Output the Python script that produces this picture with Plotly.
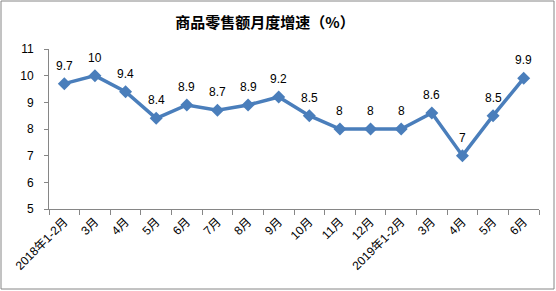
import plotly.graph_objects as go

categories = ["2018年1-2月", "3月", "4月", "5月", "6月", "7月", "8月", "9月",
              "10月", "11月", "12月", "2019年1-2月", "3月", "4月", "5月", "6月"]
values = [9.7, 10, 9.4, 8.4, 8.9, 8.7, 8.9, 9.2, 8.5, 8, 8, 8, 8.6, 7, 8.5, 9.9]
y_ticks = [5, 6, 7, 8, 9, 10, 11]
title = "商品零售额月度增速（%）"

x = list(range(len(categories)))
font = "Liberation Sans, Noto Sans CJK SC, sans-serif"

fig = go.Figure()
fig.add_trace(go.Scatter(
    x=x, y=values, mode="lines+markers",
    line=dict(color="#4A7EBB", width=3.5),
    marker=dict(symbol="diamond", size=10, color="#4A7EBB"),
    cliponaxis=False, hoverinfo="skip",
))

for xi, v in zip(x, values):
    fig.add_annotation(x=xi, y=v, text=f"{v:g}", showarrow=False,
                       yshift=18, yanchor="middle",
                       font=dict(family=font, size=12, color="#000000"))

fig.update_layout(
    width=556, height=291,
    margin=dict(l=49, r=17, t=49, b=82),
    paper_bgcolor="white", plot_bgcolor="white",
    showlegend=False,
    title=dict(text=f"<b>{title}</b>", x=265/556, xanchor="center",
               y=1 - 23/291, yanchor="middle",
               font=dict(family="Noto Sans CJK SC, sans-serif", size=15, color="#000")),
    xaxis=dict(range=[-0.5, len(categories) - 0.5], tickmode="array", tickvals=x,
               ticktext=categories, ticks="", tickangle=-45,
               showline=True, linecolor="#868686", linewidth=1, showgrid=False,
               zeroline=False,
               tickfont=dict(family=font, size=12, color="#000"),
               minor=dict(tickmode="linear", tick0=-0.5, dtick=1, ticks="outside",
                          ticklen=5, tickcolor="#868686", showgrid=False)),
    yaxis=dict(range=[5, 11], tickvals=y_ticks, ticks="outside", ticklen=4,
               tickcolor="#868686", showline=True, linecolor="#868686", linewidth=1,
               showgrid=False, zeroline=False, ticklabelstandoff=8,
               tickfont=dict(family=font, size=12, color="#000")),
)

fig.add_shape(type="rect", xref="paper", yref="paper",
              x0=(1 - 49) / 490, x1=(554 - 49) / 490,
              y0=(209 - 289) / 160, y1=(209 - 1) / 160,
              line=dict(color="#868686", width=1), layer="below")

fig.write_html("out.html")
